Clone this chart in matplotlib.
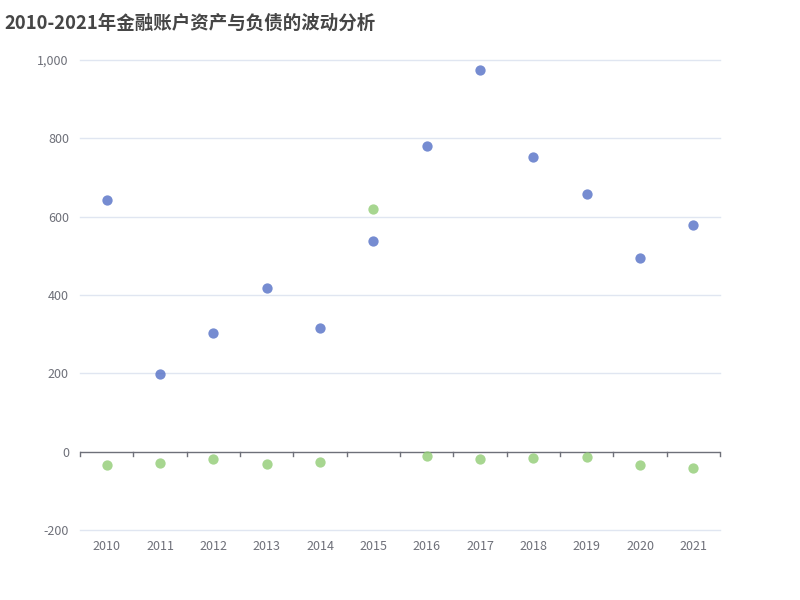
import matplotlib.pyplot as plt
from matplotlib.ticker import FuncFormatter

plt.rcParams['font.family'] = ['Noto Sans CJK SC', 'DejaVu Sans']

# data
years = ['2010', '2011', '2012', '2013', '2014', '2015',
         '2016', '2017', '2018', '2019', '2020', '2021']
assets = [643, 199, 304, 418, 316, 539, 781, 974, 753, 658, 495, 579]
liabilities = [-33, -30, -19, -31, -26, 620, -10, -20, -17, -13, -35, -41]

fig = plt.figure(figsize=(8, 6), dpi=100)
ax = fig.add_axes([0.10, 0.1167, 0.80, 0.7833])

x = list(range(len(years)))
ax.scatter(x, assets, s=55, color='#5470c6', alpha=0.8, linewidths=0, zorder=3)
ax.scatter(x, liabilities, s=55, color='#91cc75', alpha=0.8, linewidths=0, zorder=3)

ax.set_xlim(-0.5, len(years) - 0.5)
ax.set_ylim(-200, 1000)
yticks = [-200, 0, 200, 400, 600, 800, 1000]
ax.set_yticks(yticks)
ax.yaxis.set_major_formatter(FuncFormatter(lambda v, p: f'{int(v):,}'))
for yv in yticks:
    if yv != 0:
        ax.axhline(yv, color='#e0e6f1', linewidth=1, zorder=0, clip_on=False)

for s in ['left', 'right', 'top', 'bottom']:
    ax.spines[s].set_visible(False)

# category axis drawn at y=0
ax.axhline(0, color='#6e7079', linewidth=1, zorder=2)
for b in range(len(years) + 1):
    ax.plot([b - 0.5, b - 0.5], [0, -12], color='#6e7079', linewidth=1,
            clip_on=False, zorder=2)

ax.set_xticks(x)
ax.set_xticklabels(years)
ax.tick_params(axis='x', length=0, pad=7, labelsize=9, labelcolor='#6e7079')
ax.tick_params(axis='y', length=0, pad=8, labelsize=9, labelcolor='#6e7079')

fig.text(0.006, 0.977, '2010-2021年金融账户资产与负债的波动分析', fontsize=13.3,
         fontweight='bold', color='#464646', va='top', ha='left')

fig.savefig('out.png', dpi=100)
